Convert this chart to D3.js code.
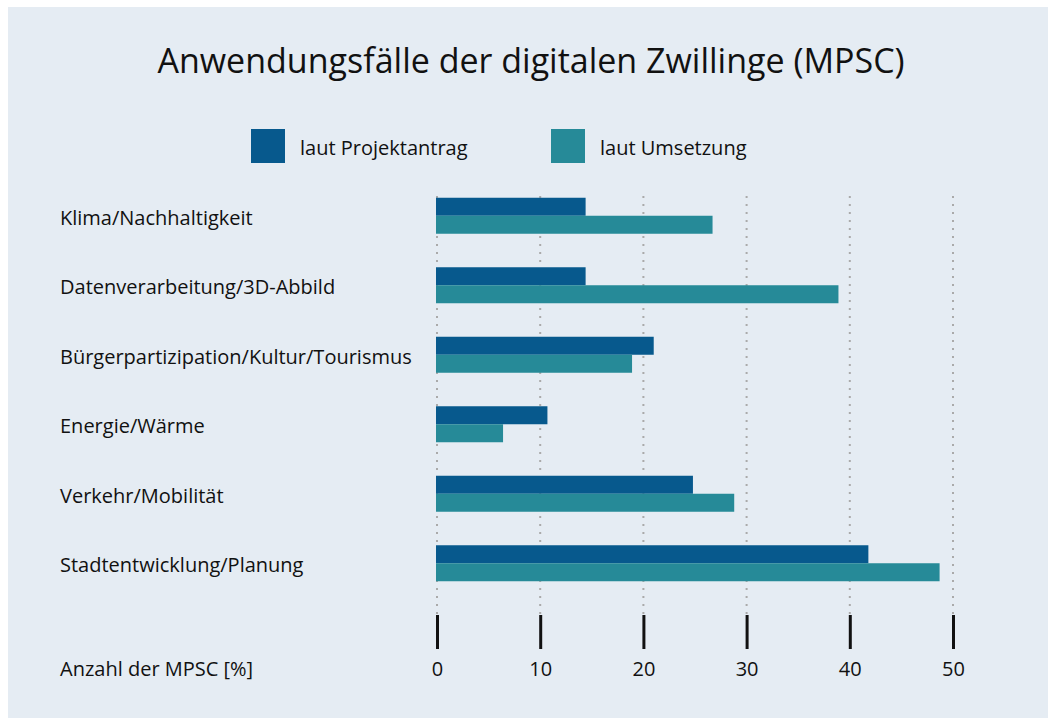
<!DOCTYPE html>
<html><head><meta charset="utf-8">
<script src="https://cdn.jsdelivr.net/npm/d3@7"></script>
<style>
html,body{margin:0;padding:0;background:#fff;}
svg{display:block;font-family:"Open Sans",sans-serif;}
</style></head>
<body>
<script>
const categories = ["Klima/Nachhaltigkeit","Datenverarbeitung/3D-Abbild","Bürgerpartizipation/Kultur/Tourismus","Energie/Wärme","Verkehr/Mobilität","Stadtentwicklung/Planung"];
const seriesNames = ["laut Projektantrag","laut Umsetzung"];
const projektantrag = [14.4, 14.4, 21.0, 10.7, 24.8, 41.8];
const umsetzung = [26.7, 38.9, 18.9, 6.4, 28.8, 48.7];
const tickValues = [0,10,20,30,40,50];
const title = "Anwendungsfälle der digitalen Zwillinge (MPSC)";
const axisLabel = "Anzahl der MPSC [%]";
const colors = ["#07598d","#268a98"];

const W=1048,H=718;
const svg=d3.select("body").append("svg").attr("width",W).attr("height",H);
svg.append("rect").attr("x",8).attr("y",7).attr("width",W-8).attr("height",H-7).attr("fill","#e5ecf3");

svg.append("text").attr("x",531).attr("y",73).attr("text-anchor","middle")
  .attr("font-size",34).attr("fill","#111").text(title);

// legend
const legX=[251,551];
seriesNames.forEach((s,i)=>{
  svg.append("rect").attr("x",legX[i]).attr("y",129).attr("width",34).attr("height",34).attr("fill",colors[i]);
  svg.append("text").attr("x",legX[i]+49).attr("y",155).attr("font-size",20).attr("fill","#111").text(s);
});

const x=d3.scaleLinear().domain([0,50]).range([437,953]);
const y=d3.scaleBand().domain(categories).range([181,598]).padding(0);
const ys=d3.scaleBand().domain(seriesNames).range([-18,18]);

// grid
const grid=svg.append("g");
grid.selectAll("line").data(tickValues).join("line")
  .attr("x1",d=>x(d)).attr("x2",d=>x(d)).attr("y1",196).attr("y2",614)
  .attr("stroke","#aaaaaa").attr("stroke-width",2).attr("stroke-dasharray","2,6");

// bars
const data=categories.map((c,i)=>({c,vals:[projektantrag[i],umsetzung[i]]}));
const g=svg.append("g");
data.forEach(d=>{
  d.vals.forEach((v,j)=>{
    g.append("rect").attr("x",x(0)-1).attr("y",y(d.c)+y.bandwidth()/2+ys(seriesNames[j]))
     .attr("width",x(v)-x(0)+1).attr("height",ys.bandwidth()).attr("fill",colors[j]);
  });
});

// category labels
svg.append("g").selectAll("text").data(categories).join("text")
  .attr("x",60).attr("y",d=>y(d)+y.bandwidth()/2+9).attr("font-size",20).attr("fill","#111").text(d=>d);

// axis
const axis=d3.axisBottom(x).tickValues(tickValues).tickSize(34).tickPadding(0).tickFormat(d3.format("d"));
const ag=svg.append("g").attr("transform","translate(0,615)").call(axis);
ag.select(".domain").remove();
ag.selectAll(".tick line").attr("stroke","#111").attr("stroke-width",3);
ag.selectAll(".tick text").attr("font-size",20).attr("fill","#111").attr("font-family","Open Sans, sans-serif")
  .attr("dy",null).attr("y",61);

svg.append("text").attr("x",60).attr("y",676).attr("font-size",20).attr("fill","#111").text(axisLabel);
</script>
</body></html>
